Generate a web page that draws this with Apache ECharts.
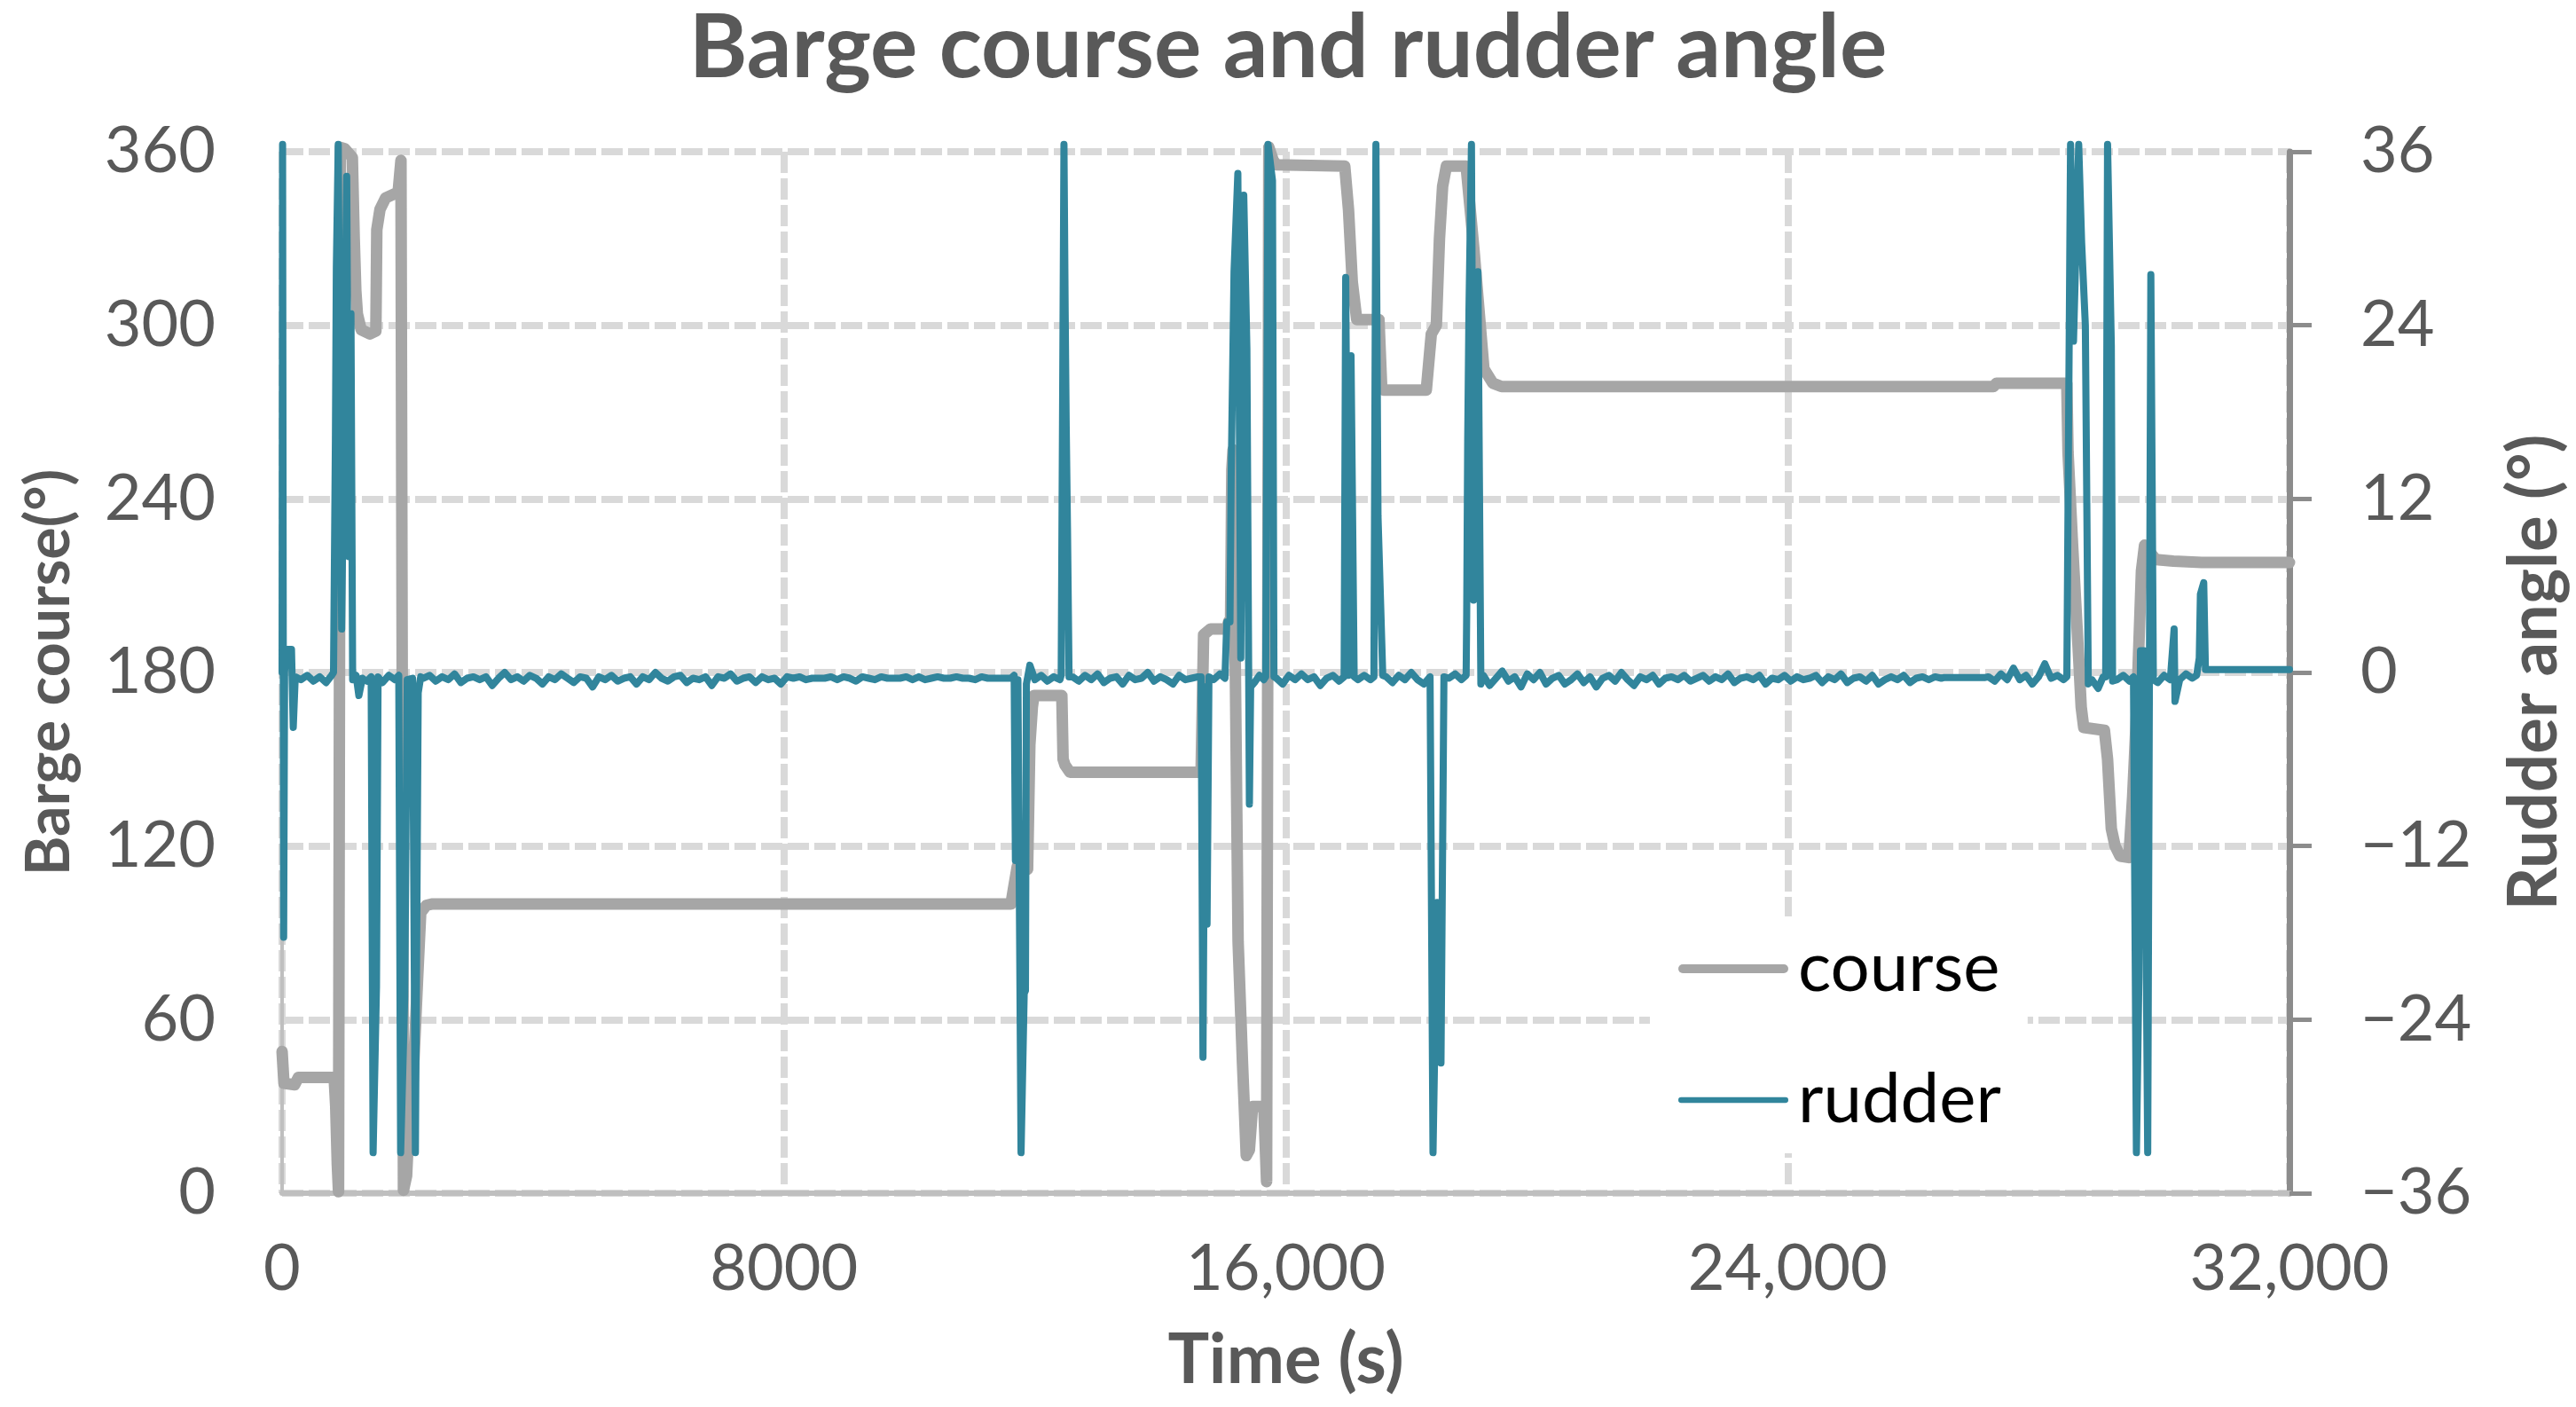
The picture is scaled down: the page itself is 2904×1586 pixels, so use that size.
<!DOCTYPE html>
<html>
<head>
<meta charset="utf-8">
<title>Barge course and rudder angle</title>
<script src="https://cdn.jsdelivr.net/npm/echarts@6.0.0/dist/echarts.min.js"></script>
<style>
  html, body { margin: 0; padding: 0; background: #fff; }
  #chart { width: 2904px; height: 1586px; }
</style>
</head>
<body>
<div id="chart"></div>
<script>
// x ticks (s), left and right axis ranges
const timeTicks = [0, 8000, 16000, 24000, 32000];
const courseTicks = [0, 60, 120, 180, 240, 300, 360];
const rudderTicks = [-36, -24, -12, 0, 12, 24, 36];

// barge course, [time s, degrees]
const coursePts = [
  [0, 49], [30, 38], [200, 37.5], [260, 40], [830, 40], [855, 30], [880, 10], [900, 0.5],
  [930, 361.5], [1000, 361], [1120, 358], [1150, 330], [1175, 312], [1200, 304], [1260, 298.5],
  [1400, 297], [1495, 298], [1510, 333], [1560, 340], [1650, 344], [1850, 346], [1895, 357],
  [1935, 1], [1985, 6], [2035, 30], [2085, 38], [2160, 74], [2210, 97], [2300, 99.5], [2400, 100],
  [11620, 100], [11650, 104], [11720, 113], [11884, 112], [11920, 155], [11960, 168], [11985, 172],
  [12430, 172], [12450, 150], [12480, 148], [12560, 145.5], [14650, 145.5], [14690, 193],
  [14800, 195], [15057, 195], [15090, 197.6], [15120, 198], [15140, 250], [15160, 257],
  [15240, 87], [15310, 45], [15370, 13], [15420, 15], [15470, 30], [15650, 30], [15694, 4],
  [15730, 361.5], [15800, 357], [15850, 355.5], [16940, 355], [17000, 340], [17060, 315],
  [17131, 302], [17485, 302], [17530, 278], [17560, 277.6], [18240, 277.6], [18320, 297],
  [18400, 300], [18450, 330], [18500, 348], [18560, 355], [18875, 355], [18940, 340],
  [19000, 326], [19100, 300], [19158, 285], [19300, 280], [19440, 278.8], [27280, 278.8],
  [27330, 280], [28450, 280], [28470, 256], [28540, 225], [28640, 185], [28680, 168],
  [28720, 161], [29050, 160], [29100, 150], [29160, 126], [29220, 120], [29300, 116.5],
  [29440, 116], [29500, 137], [29560, 165], [29640, 215], [29690, 224], [29760, 222],
  [29870, 219], [30150, 218.5], [30600, 218], [32000, 218]
];

// rudder angle manoeuvres, [time s, degrees]
const rudderPeaks = [
  [0, 0], [8, 36.5], [25, -18.3], [40, 0], [60, 1.6], [150, 1.6], [178, -3.8], [210, -0.3],
  [300, -0.5], [400, -0.2], [500, -0.6], [600, -0.3], [700, -0.7], [790, -0.2],
  [820, 0], [835, 8], [850, 16], [865, 28], [895, 36.5], [950, 3], [1030, 34.3], [1065, 8],
  [1098, 24.8], [1125, -0.5], [1180, -0.2], [1224, -1.6], [1280, -0.4], [1350, -0.6],
  [1420, -0.3], [1451, -33.2], [1505, -21.7], [1530, -0.3], [1600, -0.7], [1700, -0.2],
  [1800, -0.5], [1860, -0.2], [1890, -33.2], [1955, -22.4], [1995, -0.5], [2080, -0.4],
  [2125, -33.2], [2170, -1.4], [2210, -0.3],
  [11620, -0.4], [11670, -0.2], [11690, -13], [11730, -0.5], [11780, -33.2], [11830, -22.2],
  [11850, -22], [11865, -0.8], [11920, 0.5], [12000, -0.5], [12100, -0.2], [12200, -0.6],
  [12300, -0.3], [12400, -0.5], [12420, -0.2], [12464, 36.5], [12483, 25], [12500, 17],
  [12520, 10], [12545, -0.3],
  [14650, -0.3], [14680, -26.6], [14715, -1], [14745, -17.4], [14775, -0.3], [14850, -0.5],
  [14950, -0.1], [15030, -0.4], [15060, 3.5], [15110, 3.5], [15130, 13.7], [15175, 27.7],
  [15236, 34.5], [15283, 1], [15330, 33], [15380, 22.4], [15420, -9.1], [15440, -1],
  [15500, -0.7], [15580, -0.2], [15650, -0.5], [15680, -0.3], [15717, 36.5], [15788, 34],
  [15811, -0.3],
  [16930, -0.3], [16955, 27.3], [17000, -0.2], [17040, 21.9], [17090, -0.3], [17150, -0.5],
  [17250, -0.2], [17350, -0.5], [17405, -0.3], [17437, 36.5], [17470, 10.8], [17546, -0.2],
  [18300, -0.3], [18347, -33.2], [18413, -15.9], [18474, -27], [18521, -0.3], [18600, -0.4],
  [18700, -0.1], [18800, -0.5], [18875, -0.2], [18884, 4], [18900, 16], [18920, 25],
  [18960, 36.5], [18993, 5], [19063, 27.7], [19110, -0.8],
  [26500, -0.35], [27150, -0.35],
  [28451, -0.3], [28510, 36.5], [28557, 22.9], [28640, 36.5], [28687, 29.7], [28746, 24],
  [28793, -0.8], [28850, -0.5], [28950, -1.1], [29030, -0.3], [29070, -0.3], [29100, 36.5],
  [29160, 22.6], [29180, -0.6], [29250, -0.5], [29350, -0.2], [29450, -0.6], [29513, -0.3],
  [29560, -33.2], [29600, -21], [29625, 1.5], [29680, 1.5], [29740, -33.2], [29790, 27.5],
  [29830, -0.5], [29900, -0.7], [30000, -0.2], [30100, -0.5], [30161, 3], [30175, -2],
  [30250, -0.5], [30350, -0.1], [30450, -0.4], [30520, -0.2], [30562, 1], [30580, 5.4],
  [30633, 6.2], [30660, 0.2], [32000, 0.2]
];

// small rudder jitter between manoeuvres, one reading every 100 s from the start time
const jitterA = [ // from 2250 s
  -0.4, -0.2, -0.6, -0.3, -0.5, -0.1, -0.7, -0.4, -0.3, -0.5,
  -0.3, -0.9, -0.4, 0.0, -0.5, -0.3, -0.6, -0.2, -0.4, -0.8,
  -0.3, -0.5, -0.1, -0.4, -0.7, -0.3, -0.4, -1.0, -0.3, -0.5,
  -0.2, -0.6, -0.4, -0.3, -0.8, -0.3, -0.5, 0.0, -0.4, -0.6,
  -0.3, -0.2, -0.7, -0.4, -0.5, -0.3, -0.9, -0.3, -0.4, -0.1,
  -0.6, -0.4, -0.3, -0.7, -0.3, -0.5, -0.4, -0.8, -0.3, -0.4,
  -0.3, -0.5, -0.4, -0.4, -0.4, -0.3, -0.5, -0.3, -0.4, -0.6,
  -0.3, -0.4, -0.5, -0.3, -0.4, -0.4, -0.4, -0.3, -0.5, -0.3,
  -0.5, -0.4, -0.3, -0.4, -0.4, -0.3, -0.4, -0.4, -0.5, -0.3,
  -0.4, -0.4, -0.4, -0.4
];
const jitterB = [ // from 12600 s
  -0.3, -0.6, -0.2, -0.5, -0.1, -0.7, -0.4, -0.3, -0.8, -0.2,
  -0.5, -0.4, 0.0, -0.6, -0.3, -0.5, -0.8, -0.2, -0.5, -0.4, -0.3
];
const jitterC = [ // from 15850 s
  -0.4, -0.8, -0.2, -0.5, -0.1, -0.5, -0.3, -0.9, -0.4, -0.2, -0.6
];
const jitterD = [ // from 17600 s
  -0.3, -0.7, -0.2, -0.5, 0.0, -0.5, -0.8
];
const jitterE = [ // from 19150 s
  -0.2, -0.9, -0.4, 0.1, -0.6, -0.3, -1.0, -0.1, -0.5, 0.0,
  -0.8, -0.4, -0.2, -0.8, -0.5, -0.1, -0.7, -0.3, -1.0, -0.4,
  -0.2, -0.6, 0.0, -0.5, -0.9, -0.3, -0.5, -0.2, -0.8, -0.4,
  -0.3, -0.5, -0.2, -0.6, -0.4, -0.2, -0.6, -0.3, -0.5, -0.1,
  -0.7, -0.4, -0.3, -0.5, -0.2, -0.8, -0.4, -0.5, -0.2, -0.6,
  -0.3, -0.5, -0.4, -0.2, -0.7, -0.3, -0.5, -0.1, -0.7, -0.4,
  -0.3, -0.6, -0.2, -0.8, -0.5, -0.3, -0.5, -0.2, -0.7, -0.4,
  -0.3, -0.5, -0.3, -0.4
];
const jitterF = [ // from 27200 s
  -0.3, -0.6, -0.1, -0.5, 0.3, -0.5, -0.2, -0.8, -0.3, 0.6, -0.4, -0.2, -0.5
];
const jitterStarts = [2250, 12600, 15850, 17600, 19150, 27200];

var jitters = [jitterA, jitterB, jitterC, jitterD, jitterE, jitterF];
var rudderPts = rudderPeaks.slice();
jitters.forEach(function (list, k) {
  list.forEach(function (v, i) {
    rudderPts.push([jitterStarts[k] + i * 100, v]);
  });
});
rudderPts.sort(function (a, b) { return a[0] - b[0]; });

var font = "Lato";
var grey = "#595959";
var gridLine = { color: "#d9d9d9", width: 8, type: [24, 6] };

var myChart = echarts.init(document.getElementById("chart"));
var option = {
  backgroundColor: "#fff",
  animation: false,
  title: {
    text: "Barge course and rudder angle",
    left: "center",
    top: 0,
    textStyle: { fontFamily: font, fontSize: 100, fontWeight: "bold", color: grey }
  },
  legend: {
    data: [
      { name: "course", icon: "path://M5,0L119,0A5,5,0,0,1,119,10L5,10A5,5,0,0,1,5,0Z" },
      { name: "rudder", icon: "path://M3,0L115,0A3,3,0,0,1,115,6L3,6A3,3,0,0,1,3,0Z" }
    ],
    orient: "vertical",
    left: 1860,
    top: 1033,
    padding: [17, 30, 18, 32],
    itemGap: 64,
    itemWidth: 124,
    itemHeight: 24,
    backgroundColor: "#fff",
    textStyle: { fontFamily: font, fontSize: 78, color: "#000", lineHeight: 84, padding: [0, 0, 0, 6] }
  },
  grid: { left: 318, top: 171, width: 2263, height: 1174 },
  xAxis: {
    type: "value",
    min: timeTicks[0],
    max: timeTicks[timeTicks.length - 1],
    interval: timeTicks[1] - timeTicks[0],
    name: "Time (s)",
    nameLocation: "middle",
    nameGap: 150,
    nameTextStyle: { fontFamily: font, fontSize: 78, fontWeight: "bold", color: grey },
    axisLine: { onZero: false, lineStyle: { color: "#bfbfbf", width: 6 } },
    axisTick: { show: false },
    axisLabel: {
      margin: 50,
      fontFamily: font,
      fontSize: 72,
      color: grey,
      formatter: function (v) { return v >= 10000 ? v.toLocaleString("en-US") : String(v); }
    },
    splitLine: { show: true, lineStyle: gridLine }
  },
  yAxis: [
    {
      type: "value",
      position: "left",
      min: courseTicks[0],
      max: courseTicks[courseTicks.length - 1],
      interval: courseTicks[1] - courseTicks[0],
      name: "Barge course(°)",
      nameLocation: "middle",
      nameRotate: 90,
      nameGap: 228,
      nameTextStyle: { fontFamily: font, fontSize: 68, fontWeight: "bold", color: grey },
      axisLine: { show: true, lineStyle: { color: "#bfbfbf", width: 4 } },
      axisTick: { show: false },
      axisLabel: { margin: 75, fontFamily: font, fontSize: 72, color: grey },
      splitLine: { show: true, lineStyle: gridLine }
    },
    {
      type: "value",
      position: "right",
      min: rudderTicks[0],
      max: rudderTicks[rudderTicks.length - 1],
      interval: rudderTicks[1] - rudderTicks[0],
      name: "Rudder angle (°)",
      nameLocation: "middle",
      nameRotate: 90,
      nameGap: 238,
      nameTextStyle: { fontFamily: font, fontSize: 76, fontWeight: "bold", color: grey },
      axisLine: { show: true, lineStyle: { color: "#8c8c8c", width: 7 } },
      axisTick: { show: true, inside: false, length: 25, lineStyle: { color: "#8c8c8c", width: 5 } },
      axisLabel: {
        margin: 80,
        fontFamily: font,
        fontSize: 72,
        color: grey,
        formatter: function (v) { return v < 0 ? "\u2212" + Math.abs(v) : String(v); }
      },
      splitLine: { show: false }
    }
  ],
  series: [
    {
      name: "course",
      type: "line",
      yAxisIndex: 0,
      data: coursePts,
      showSymbol: false,
      symbol: "none",
      clip: false,
      color: "#a6a6a6",
      lineStyle: { color: "#a6a6a6", width: 13, cap: "round", join: "round" }
    },
    {
      name: "rudder",
      type: "line",
      yAxisIndex: 1,
      data: rudderPts,
      showSymbol: false,
      symbol: "none",
      clip: false,
      color: "#31859c",
      lineStyle: { color: "#31859c", width: 8, cap: "round", join: "round" }
    }
  ]
};
option && myChart.setOption(option);
</script>
</body>
</html>
